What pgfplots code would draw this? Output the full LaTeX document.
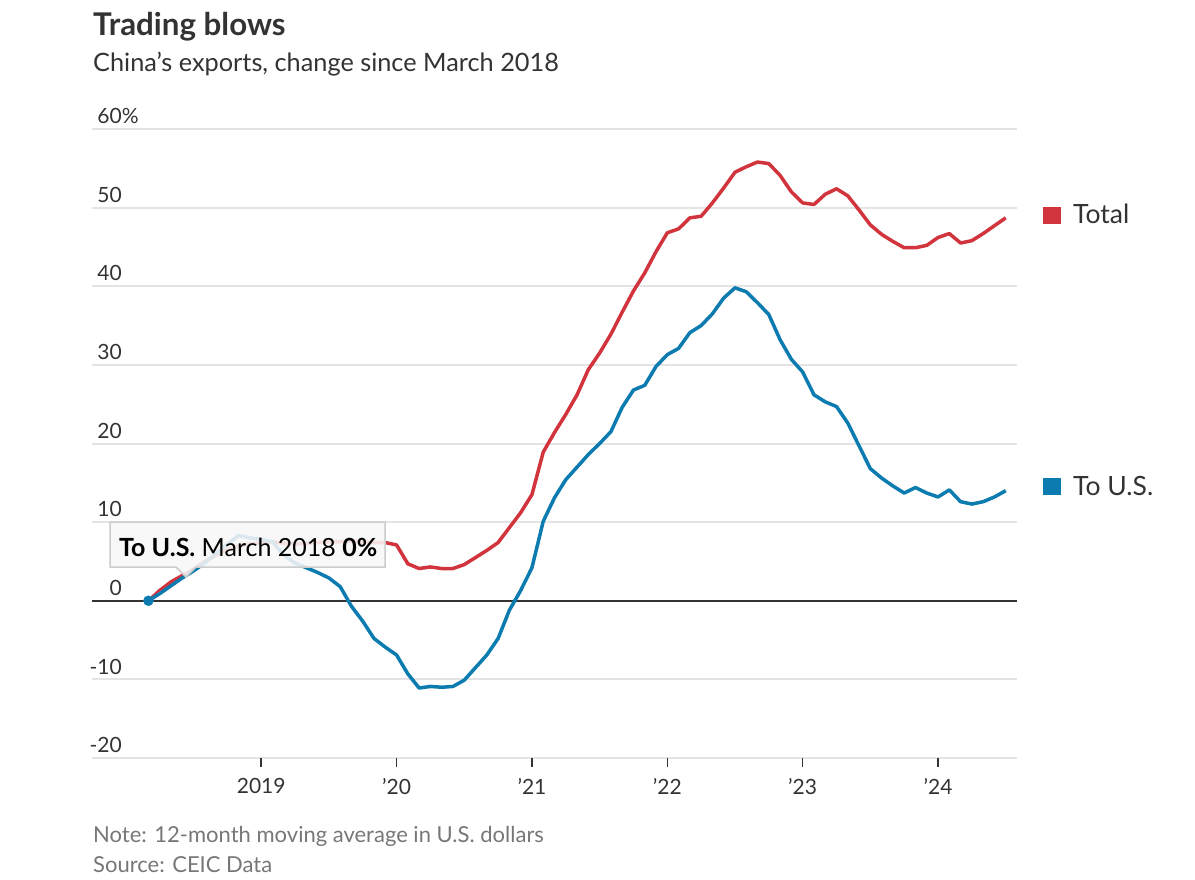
\documentclass[border=0pt]{standalone}
\usepackage{fontspec}
\setmainfont{Lato}
\usepackage{pgfplots}
\pgfplotsset{compat=1.18}
\usepackage{pgfplotstable}
\definecolor{wsjred}{HTML}{D1343C}
\definecolor{wsjblue}{HTML}{0B7BB0}
\definecolor{txt}{HTML}{333333}
\definecolor{notec}{HTML}{777777}
\definecolor{gridc}{HTML}{E4E4E4}

\pgfplotstableread{
m total us
0 0 0
1 1.3 0.9
2 2.4 1.9
3 3.2 2.9
4 4.0 3.8
5 5.0 4.8
6 5.8 6.0
7 6.5 7.2
8 7.0 8.3
9 7.2 8.0
10 7.4 7.8
11 7.5 7.5
12 7.3 5.8
13 7.2 4.8
14 7.3 4.2
15 7.4 3.6
16 7.5 2.9
17 7.5 1.8
18 7.6 -0.7
19 7.5 -2.6
20 7.4 -4.8
21 7.4 -5.9
22 7.1 -6.9
23 4.7 -9.3
24 4.1 -11.1
25 4.3 -10.9
26 4.1 -11.0
27 4.1 -10.9
28 4.6 -10.1
29 5.5 -8.5
30 6.4 -6.9
31 7.4 -4.8
32 9.3 -1.2
33 11.2 1.3
34 13.5 4.2
35 18.9 10.1
36 21.4 13.1
37 23.7 15.4
38 26.2 17.0
39 29.4 18.6
40 31.5 20.0
41 33.9 21.5
42 36.7 24.6
43 39.4 26.8
44 41.7 27.4
45 44.4 29.8
46 46.8 31.3
47 47.3 32.1
48 48.7 34.1
49 48.9 35.0
50 50.6 36.5
51 52.5 38.5
52 54.5 39.8
53 55.2 39.3
54 55.8 37.9
55 55.6 36.4
56 54.1 33.2
57 52.0 30.7
58 50.6 29.1
59 50.4 26.2
60 51.7 25.3
61 52.4 24.7
62 51.5 22.6
63 49.7 19.7
64 47.8 16.8
65 46.6 15.6
66 45.7 14.6
67 44.9 13.7
68 44.9 14.4
69 45.2 13.7
70 46.2 13.2
71 46.7 14.1
72 45.5 12.6
73 45.8 12.3
74 46.7 12.6
75 47.7 13.2
76 48.7 14.0
}\exports

\begin{document}
\begin{tikzpicture}[x=1pt,y=1pt]
\path[use as bounding box] (0,0) rectangle (1195,-880);
\node[anchor=base west, inner sep=0, font=\fontsize{31.3}{36}\selectfont\bfseries, text=txt] at (93,-36) {Trading blows};
\node[anchor=base west, inner sep=0, font=\fontsize{25.3}{30}\selectfont, text=txt] at (93,-72) {China’s exports, change since March 2018};

\begin{axis}[
  at={(92pt,-758pt)}, anchor=south west,
  scale only axis, width=925pt, height=629pt,
  xmin=-5, xmax=77, ymin=-20, ymax=60,
  clip=false,
  axis line style={draw=none},
  xtick={10,22,34,46,58,70},
  xticklabels={2019,’20,’21,’22,’23,’24},
  xtick pos=lower, tick align=outside,
  major tick length=9pt,
  xtick style={draw=txt, line width=1.5pt},
  ytick={-20,-10,0,10,20,30,40,50,60},
  yticklabels={-20,-10,0,10,20,30,40,50,60\rlap{\%}},
  ytick style={draw=none},
  ymajorgrids,
  grid style={draw=gridc, line width=2pt},
  tick label style={font=\fontsize{21}{24}\selectfont, text=txt, inner sep=0pt},
  yticklabel style={anchor=south east, xshift=39pt, yshift=5pt},
  xticklabel style={anchor=north, yshift=-11pt},
]
\draw[txt, line width=2pt] (axis cs:-5,0) -- (axis cs:77,0);
\addplot[wsjred, line width=3.5pt, line join=round, no markers] table[x=m, y=total] {\exports};
\addplot[wsjblue, line width=3.5pt, line join=round, no markers] table[x=m, y=us] {\exports};
\addplot[wsjblue, only marks, mark=*, mark size=5pt] coordinates {(0,0)};
\end{axis}

% tooltip
\draw[draw=black!20, line width=1.5pt, fill=black!3, fill opacity=0.88]
  (110,-522) -- (385,-522) -- (385,-567) -- (196,-567) -- (186,-577) -- (176,-567) -- (110,-567) -- cycle;
\node[anchor=base west, inner sep=0, font=\fontsize{25}{30}\selectfont, text=black] at (119,-556)
  {\textbf{To U.S.} March 2018 \textbf{0\%}};

% legend labels
\fill[wsjred] (1043,-207) rectangle (1061,-224);
\node[anchor=base west, inner sep=0, font=\fontsize{26.5}{30}\selectfont, text=txt] at (1073,-223) {Total};
\fill[wsjblue] (1043,-478) rectangle (1061,-495);
\node[anchor=base west, inner sep=0, font=\fontsize{26.5}{30}\selectfont, text=txt] at (1073,-495) {To U.S.};

% notes
\node[anchor=base west, inner sep=0, font=\fontsize{22}{26}\selectfont, text=notec] at (93,-842) {Note: 12-month moving average in U.S. dollars};
\node[anchor=base west, inner sep=0, font=\fontsize{22}{26}\selectfont, text=notec] at (93,-872) {Source: CEIC Data};
\end{tikzpicture}
\end{document}
